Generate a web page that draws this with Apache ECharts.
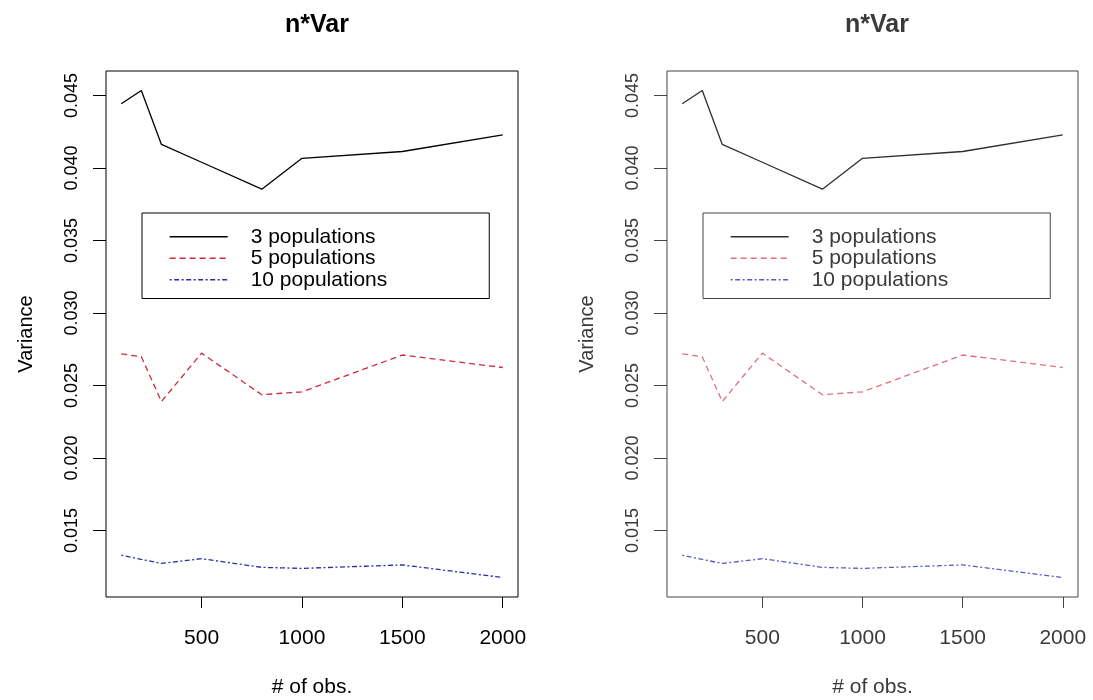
<!DOCTYPE html>
<html>
<head>
<meta charset="utf-8">
<script src="https://cdn.jsdelivr.net/npm/echarts@6/dist/echarts.min.js"></script>
<style>
html,body{margin:0;padding:0;background:#fff;}
#chart{width:1093px;height:700px;}
</style>
</head>
<body>
<div id="chart"></div>
<script>
// ---- data ----
const obs = [100, 200, 300, 500, 800, 1000, 1500, 2000];
const pop3 = [0.04443, 0.04535, 0.04163, 0.04040, 0.03854, 0.04067, 0.04114, 0.04228];
const pop5 = [0.02718, 0.02698, 0.02389, 0.02723, 0.02436, 0.02456, 0.02710, 0.02624];
const pop10 = [0.01329, 0.01300, 0.01272, 0.01305, 0.01245, 0.01238, 0.01262, 0.01175];
const seriesNames = ['3 populations', '5 populations', '10 populations'];
const xTicks = [500, 1000, 1500, 2000];
const yTicks = [0.015, 0.020, 0.025, 0.030, 0.035, 0.040, 0.045];
const panelTitle = 'n*Var';
const xName = '# of obs.';
const yName = 'Variance';

const FONT = '"Liberation Sans", Arial, Helvetica, sans-serif';
const xMin = 24, xMax = 2076, yMin = 0.010406, yMax = 0.046694;

const panels = [
  { left: 106, width: 412, center: 312, legendLeft: 142, text: '#000', box: '#000',
    colors: ['#000000', '#d0283c', '#2c2ca8'] },
  { left: 667, width: 411, center: 872, legendLeft: 703, text: '#3a3a3a', box: '#444',
    colors: ['#2e2e2e', '#e0707e', '#5a5ac0'] }
];
const dashes = ['solid', [6, 4], [2, 2.5, 5, 2.5]];
const valueSets = [pop3, pop5, pop10];

const option = { animation: false, title: [], grid: [], xAxis: [], yAxis: [], legend: [], series: [] };

panels.forEach((p, i) => {
  option.title.push({
    text: panelTitle, left: p.center, top: 6, textAlign: 'center',
    textStyle: { fontFamily: FONT, fontSize: 25, fontWeight: 'bold', color: p.text, lineHeight: 28 }
  });
  option.grid.push({
    left: p.left, top: 71, width: p.width, height: 526,
    containLabel: false, outerBoundsMode: 'none',
    show: true, borderColor: p.box, borderWidth: 1, backgroundColor: 'transparent'
  });
  option.xAxis.push({
    type: 'value', gridIndex: i, min: xMin, max: xMax,
    name: xName, nameLocation: 'middle', nameGap: 80,
    nameTextStyle: { fontFamily: FONT, fontSize: 21, color: p.text },
    axisLine: { show: false },
    splitLine: { show: false },
    axisTick: { show: true, inside: false, length: 11, customValues: xTicks, lineStyle: { color: p.box, width: 1 } },
    axisLabel: { show: true, customValues: xTicks, margin: 31, fontFamily: FONT, fontSize: 21, color: p.text,
      formatter: v => String(Math.round(v)) }
  });
  option.yAxis.push({
    type: 'value', gridIndex: i, min: yMin, max: yMax,
    name: yName, nameLocation: 'middle', nameGap: 70, nameRotate: 90,
    nameTextStyle: { fontFamily: FONT, fontSize: 20, color: p.text },
    axisLine: { show: false },
    splitLine: { show: false },
    axisTick: { show: true, inside: false, length: 13, customValues: yTicks, lineStyle: { color: p.box, width: 1 } },
    axisLabel: {
      show: true, customValues: yTicks, rotate: 90, margin: 25,
      fontFamily: FONT, fontSize: 18, color: p.text,
      formatter: v => v.toFixed(3)
    }
  });
  option.legend.push({
    show: true, orient: 'vertical', left: p.legendLeft, top: 213,
    data: seriesNames.map((n, k) => ({
      name: n,
      itemStyle: { opacity: 0, borderWidth: 0 },
      lineStyle: { color: p.colors[k], type: dashes[k], width: 1.3 }
    })),
    selectedMode: false,
    itemWidth: 58, itemHeight: 14, itemGap: 0,
    padding: [13, 102, 8, 27],
    backgroundColor: '#fff', borderColor: p.box, borderWidth: 1, borderRadius: 0,
    textStyle: { fontFamily: FONT, fontSize: 21, color: p.text, lineHeight: 21.5, padding: [0, 0, 0, 18] },
    z: 10
  });
  valueSets.forEach((vals, k) => {
    option.series.push({
      type: 'line', name: seriesNames[k], xAxisIndex: i, yAxisIndex: i,
      data: obs.map((x, j) => [x, vals[j]]),
      showSymbol: false, symbol: 'none', smooth: false, silent: true,
      lineStyle: { color: p.colors[k], width: 1.3, type: dashes[k] },
      itemStyle: { color: p.colors[k] },
      emphasis: { disabled: true }
    });
  });
});

const chart = echarts.init(document.getElementById('chart'), null, { renderer: 'canvas' });
chart.setOption(option);
</script>
</body>
</html>
